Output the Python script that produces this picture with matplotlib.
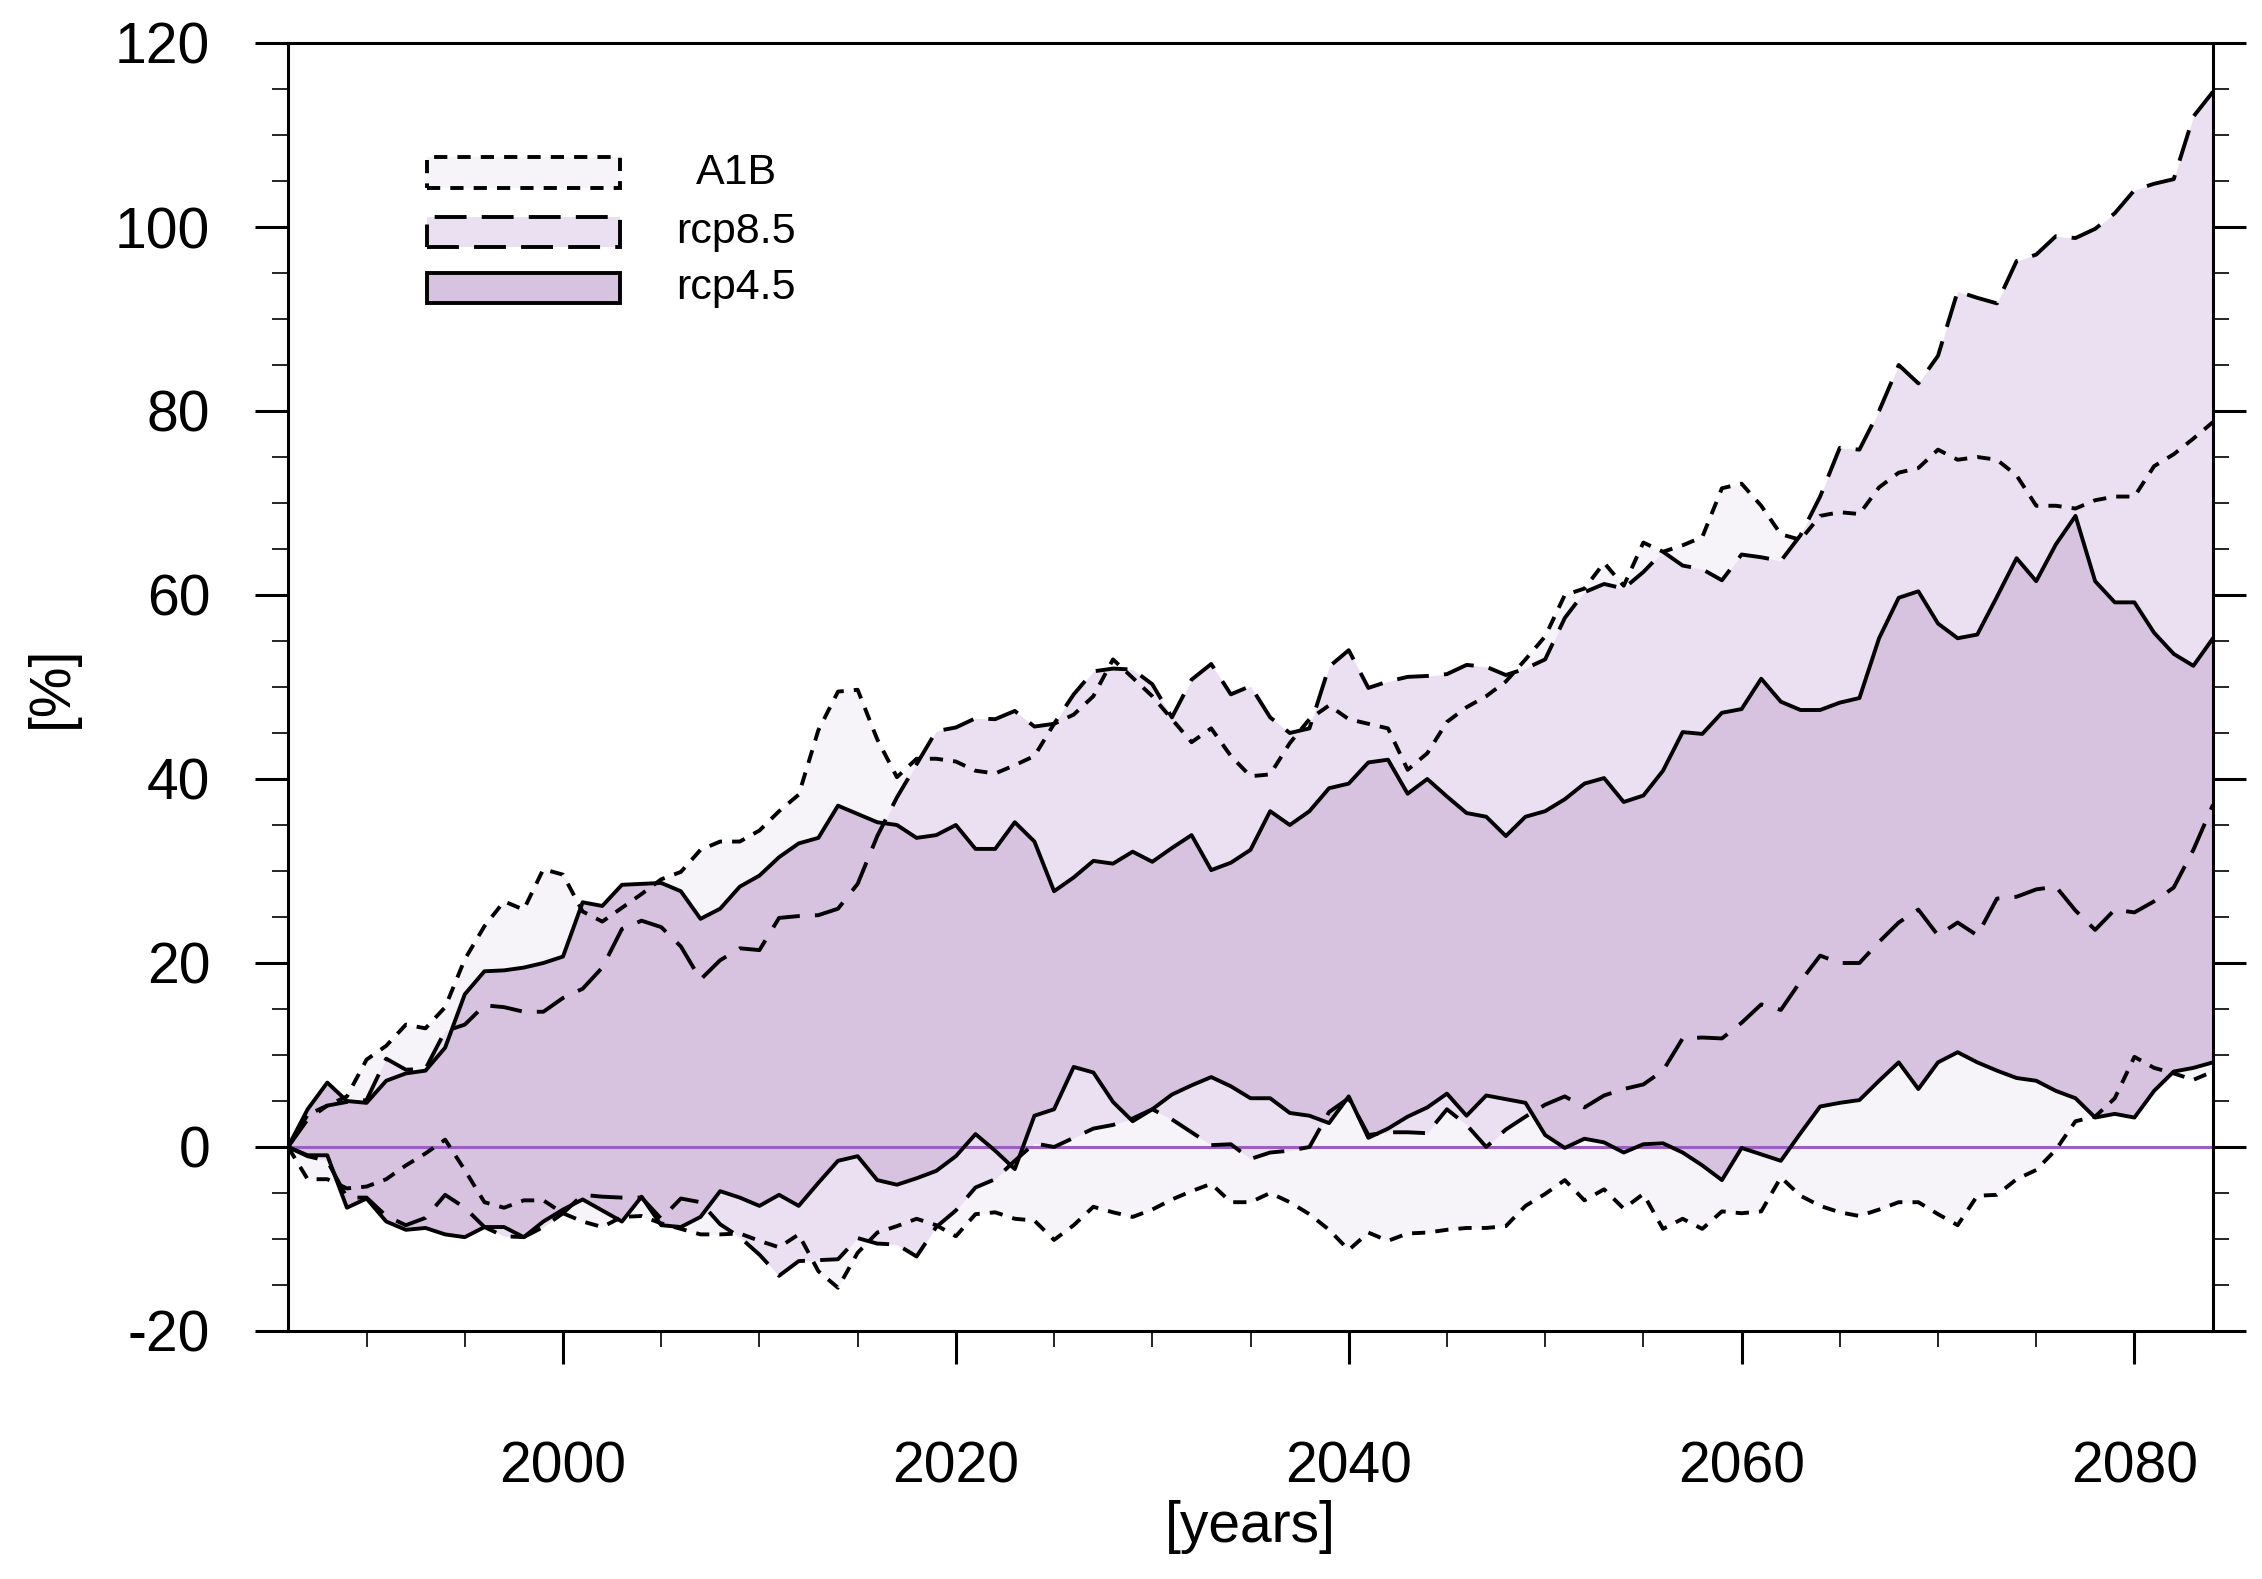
import matplotlib
matplotlib.use("Agg")
import matplotlib.pyplot as plt
from matplotlib.patches import Rectangle
from matplotlib.ticker import MultipleLocator
import numpy as np

plt.rcParams['font.family'] = ['Liberation Sans', 'DejaVu Sans']
plt.rcParams['axes.unicode_minus'] = False

# years 1986..2084
years = np.arange(1986, 2085)

# A1B range (short dashes)
a1b_hi = [0, 3.5, 4.5, 5.5, 9.5, 11.0, 13.3, 12.9, 15.2, 20.4,
          24.0, 26.7, 25.8, 30.2, 29.6, 25.6, 24.5, 26.0, 27.5, 29.1,
          29.9, 32.3, 33.2, 33.2, 34.4, 36.5, 38.3, 45.3, 49.5, 49.7,
          44.3, 40.2, 42.2, 42.2, 41.9, 40.9, 40.6, 41.5, 42.5, 46.0,
          47.0, 49.0, 53.0, 51.0, 49.0, 46.5, 44.0, 45.5, 42.5, 40.3,
          40.5, 43.9, 46.5, 48.0, 46.5, 46.0, 45.5, 41.0, 42.8, 46.2,
          47.8, 49.0, 50.6, 53.0, 55.5, 60.0, 60.7, 63.5, 61.0, 65.7,
          64.7, 65.4, 66.3, 71.6, 72.1, 69.7, 66.6, 66.0, 68.6, 69.0,
          68.8, 71.7, 73.3, 73.8, 75.8, 74.7, 75.0, 74.7, 73.0, 69.7,
          69.7, 69.4, 70.3, 70.7, 70.7, 74.0, 75.3, 77.0, 78.8]
a1b_lo = [0, -3.5, -3.5, -4.5, -4.3, -3.5, -2.0, -0.7, 0.8, -2.5,
          -6.0, -6.6, -5.8, -5.8, -7.2, -8.1, -8.7, -7.6, -7.5, -8.3,
          -8.9, -9.5, -9.5, -9.4, -10.2, -10.9, -9.5, -13.5, -15.3, -11.5,
          -9.3, -8.6, -7.8, -8.5, -9.7, -7.3, -7.1, -7.8, -8.0, -10.1,
          -8.5, -6.5, -7.1, -7.6, -6.8, -5.7, -4.8, -4.0, -6.0, -6.0,
          -5.0, -6.0, -7.3, -9.0, -11.2, -9.3, -10.2, -9.4, -9.3, -9.0,
          -8.8, -8.8, -8.6, -6.4, -5.1, -3.6, -5.8, -4.6, -6.7, -5.1,
          -8.9, -7.8, -8.9, -7.0, -7.2, -7.0, -3.3, -5.3, -6.4, -7.1,
          -7.5, -6.8, -6.0, -6.0, -7.3, -8.5, -5.3, -5.2, -3.5, -2.5,
          -0.3, 2.8, 3.3, 5.3, 9.8, 8.6, 8.0, 7.3, 8.2]

# rcp8.5 range (long dashes)
rcp85_hi = [0, 3.0, 4.5, 4.9, 5.1, 9.6, 8.4, 8.5, 12.6, 13.3,
            15.4, 15.2, 14.7, 14.7, 16.2, 17.2, 19.5, 23.7, 24.6, 23.9,
            21.8, 18.2, 20.3, 21.6, 21.4, 24.9, 25.1, 25.2, 25.9, 28.6,
            33.8, 38.0, 41.6, 45.2, 45.6, 46.6, 46.5, 47.4, 45.7, 46.0,
            49.2, 51.7, 52.0, 51.9, 50.3, 46.7, 50.8, 52.5, 49.2, 50.1,
            46.7, 45.0, 45.5, 52.2, 54.0, 49.9, 50.6, 51.1, 51.2, 51.4,
            52.4, 52.2, 51.3, 52.0, 53.0, 57.5, 60.3, 61.2, 60.7, 62.5,
            64.7, 63.2, 62.8, 61.6, 64.4, 64.1, 63.7, 66.5, 70.7, 76.0,
            75.8, 80.0, 85.0, 83.0, 86.0, 93.0, 92.3, 91.7, 96.3, 97.0,
            99.0, 98.8, 99.8, 101.5, 104.0, 104.7, 105.2, 112.0, 114.7]
rcp85_lo = [0, -1.0, -1.5, -5.5, -5.5, -7.5, -8.5, -7.7, -5.2, -6.6,
            -8.7, -9.7, -9.8, -8.7, -7.2, -5.2, -5.4, -5.5, -5.5, -7.8,
            -5.6, -6.0, -8.4, -9.8, -11.7, -14.0, -12.4, -12.3, -12.2, -9.9,
            -10.5, -10.6, -11.9, -8.7, -6.9, -4.4, -3.5, -1.5, 0.4, 0.0,
            1.0, 2.0, 2.4, 3.1, 4.1, 3.0, 1.6, 0.2, 0.3, -1.3,
            -0.6, -0.4, 0.0, 3.8, 5.3, 1.3, 1.6, 1.6, 1.5, 4.1,
            2.4, 0.0, 1.9, 3.3, 4.6, 5.5, 4.3, 5.6, 6.3, 6.8,
            8.3, 11.8, 11.9, 11.8, 13.5, 15.5, 14.9, 18.0, 20.8, 20.0,
            20.0, 22.3, 24.4, 25.8, 23.0, 24.4, 23.0, 27.0, 27.2, 28.0,
            28.3, 25.7, 23.6, 25.8, 25.5, 26.7, 28.2, 32.3, 37.2]

# rcp4.5 range (solid)
rcp45_hi = [0, 4.1, 7.0, 5.0, 4.8, 7.2, 8.0, 8.3, 10.8, 16.6,
            19.1, 19.2, 19.5, 20.0, 20.7, 26.6, 26.2, 28.5, 28.6, 28.7,
            27.8, 24.8, 25.9, 28.3, 29.5, 31.5, 33.0, 33.6, 37.1, 36.2,
            35.3, 35.0, 33.6, 33.9, 35.0, 32.4, 32.4, 35.3, 33.2, 27.8,
            29.3, 31.1, 30.8, 32.1, 31.0, 32.5, 33.9, 30.1, 30.9, 32.3,
            36.5, 35.0, 36.5, 39.0, 39.5, 41.8, 42.1, 38.4, 40.0, 38.1,
            36.3, 35.9, 33.8, 35.9, 36.5, 37.8, 39.5, 40.1, 37.5, 38.2,
            40.9, 45.1, 44.9, 47.2, 47.6, 50.9, 48.4, 47.5, 47.5, 48.3,
            48.8, 55.3, 59.7, 60.4, 56.9, 55.3, 55.7, 59.8, 64.0, 61.5,
            65.5, 68.6, 61.5, 59.2, 59.2, 55.9, 53.6, 52.3, 55.3]
rcp45_lo = [0, -0.9, -0.9, -6.6, -5.6, -8.1, -9.0, -8.8, -9.5, -9.8,
            -8.7, -8.7, -9.8, -8.1, -6.8, -5.7, -6.9, -8.1, -5.4, -8.5,
            -8.7, -7.6, -4.8, -5.5, -6.4, -5.2, -6.4, -3.9, -1.5, -1.0,
            -3.6, -4.1, -3.4, -2.6, -1.0, 1.4, -0.4, -2.4, 3.4, 4.1,
            8.7, 8.1, 4.9, 2.8, 4.1, 5.7, 6.7, 7.6, 6.6, 5.3,
            5.3, 3.7, 3.4, 2.6, 5.5, 1.0, 2.0, 3.3, 4.3, 5.8,
            3.4, 5.6, 5.2, 4.8, 1.3, -0.1, 0.9, 0.5, -0.6, 0.3,
            0.4, -0.6, -2.0, -3.6, -0.1, -0.8, -1.5, 1.5, 4.4, 4.8,
            5.1, 7.2, 9.2, 6.3, 9.2, 10.3, 9.2, 8.3, 7.5, 7.2,
            6.1, 5.3, 3.2, 3.6, 3.2, 6.1, 8.2, 8.6, 9.2]

labels = ['A1B', 'rcp8.5', 'rcp4.5']
fills = ['#f6f3f9', '#ebe0f1', '#d7c2e0']
lw = 2.8
styles = [(0, (3.4, 2.6)), (0, (8.2, 3.9)), 'solid']

W, H = 2262, 1579
fig = plt.figure(figsize=(W / 100, H / 100), dpi=100)
ax = fig.add_axes([288 / W, 1 - 1331 / H, (2213 - 288) / W, (1331 - 43) / H])

bands = [(a1b_lo, a1b_hi), (rcp85_lo, rcp85_hi), (rcp45_lo, rcp45_hi)]
for (lo, hi), c in zip(bands, fills):
    ax.fill_between(years, lo, hi, color=c, lw=0, zorder=1)

ax.axhline(0, color='#9b5fc4', lw=2.2, zorder=2)

for (lo, hi), ls in zip(bands, styles):
    ax.plot(years, hi, color='black', lw=lw, ls=ls, zorder=3)
    ax.plot(years, lo, color='black', lw=lw, ls=ls, zorder=3)

ax.set_xlim(1986, 2084)
ax.set_ylim(-20, 120)
ax.xaxis.set_major_locator(MultipleLocator(20))
ax.xaxis.set_minor_locator(MultipleLocator(5))
ax.yaxis.set_major_locator(MultipleLocator(20))
ax.yaxis.set_minor_locator(MultipleLocator(5))
ax.tick_params(which='both', direction='out', top=False, right=True,
               labelsize=41)
ax.tick_params(axis='y', which='both', pad=32)
ax.tick_params(axis='x', which='both', pad=55)
ax.tick_params(which='major', length=24, width=2.2)
ax.tick_params(which='minor', length=11.5, width=1.2)
for s in ax.spines.values():
    s.set_linewidth(2.2)

fig.text((288 + 2213) / 2 / W, 1 - 1527 / H, '[years]', fontsize=41,
         ha='center', va='center')
ax.set_ylabel('[%]', fontsize=41, labelpad=26)

# legend boxes drawn by hand (NCL style)
box_x0, box_x1 = 427, 620
rows = [(157, 188), (217, 247), (273, 303)]
for (y0, y1), c, ls, lab in zip(rows, fills, styles, labels):
    r = Rectangle((box_x0 / W, 1 - y1 / H), (box_x1 - box_x0) / W, (y1 - y0) / H,
                  transform=fig.transFigure, facecolor=c, edgecolor='black',
                  lw=lw, ls=ls, zorder=5)
    fig.patches.append(r)
    fig.text(736 / W, 1 - (y0 + y1) / 2 / H, lab, fontsize=31,
             ha='center', va='center')

fig.savefig('out.png', dpi=100)
